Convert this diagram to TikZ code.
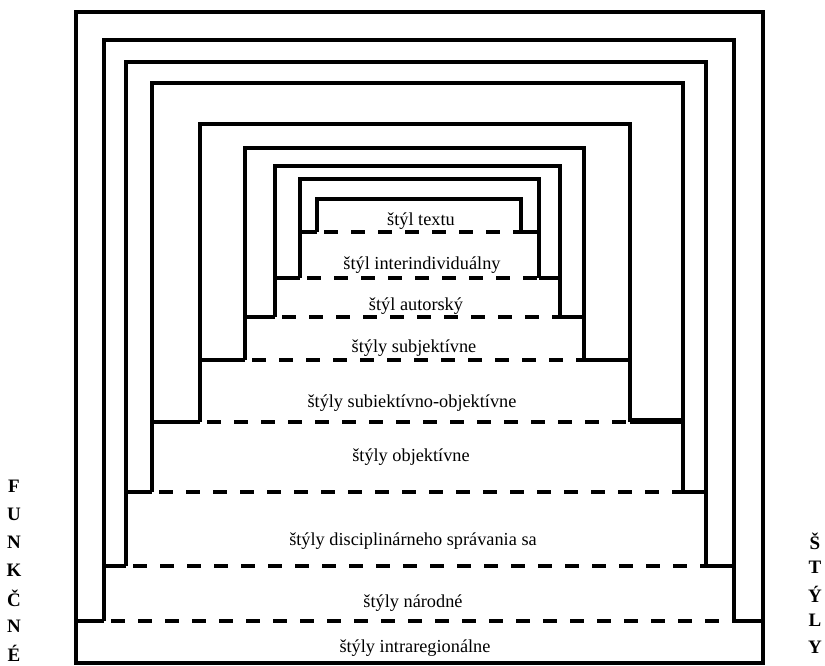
\documentclass[tikz,border=0pt]{standalone}
\usepackage{fontspec}
\setmainfont{Liberation Serif}
\begin{document}
\begin{tikzpicture}[x=1pt,y=-1pt,
  frameline/.style={line width=3.6pt, line join=miter},
  stub/.style={line width=3.6pt},
  thickstub/.style={line width=6.5pt},
  dashline/.style={line width=4.6pt, dash pattern=on 14pt off 13pt, dash phase=20pt},
  lbl/.style={font=\fontsize{18.3}{20}\selectfont, inner sep=0pt},
  side/.style={font=\fontsize{19}{20}\selectfont\bfseries, inner sep=0pt}]
\useasboundingbox (0,0) rectangle (825,666);
% outer frame
\draw[frameline] (76,12) rectangle (763,663);
% nested frames: left/right/top/bottom
\foreach \xl/\xr/\t/\b in {104/734/40/621, 126/706/62/566, 152/683/83/492,
  200/630/124/422, 245/584/148/360, 275/560/166/317, 300/539/179/278, 317/521/199/232}{
  \draw[frameline] (\xl,\b) -- (\xl,\t) -- (\xr,\t) -- (\xr,\b);
  \draw[dashline] (\xl,\b) -- (\xr,\b);
}
% solid stubs joining each frame foot to the enclosing frame
\foreach \xo/\xi/\xj/\xp/\b in {76/104/734/763/621, 104/126/706/734/566, 126/152/683/706/492,
  200/245/584/630/360, 245/275/560/584/317, 275/300/539/560/278, 300/317/521/539/232}{
  \draw[stub] (\xo,\b) -- (\xi,\b);
  \draw[stub] (\xj,\b) -- (\xp,\b);
}
\draw[stub] (152,422) -- (200,422);
\draw[thickstub] (630,421) -- (682,421);
% labels
\node[lbl] (t1) at (421,221) {štýl textu};
\node[lbl] (t2) at (422,265) {štýl interindividuálny};
\node[lbl] (t3) at (416,306) {štýl autorský};
\node[lbl] (t4) at (414,348) {štýly subjektívne};
\node[lbl] (t5) at (412,403) {štýly subiektívno-objektívne};
\node[lbl] (t6) at (411,457) {štýly objektívne};
\node[lbl] (t7) at (413,541) {štýly disciplinárneho správania sa};
\node[lbl] (t8) at (413,603) {štýly národné};
\node[lbl] (t9) at (415,648) {štýly intraregionálne};
% side letters
\foreach \c/\yy [count=\i] in {F/486, U/514, N/542, K/570, Č/598, N/626, É/653}{
  \node[side] (f\i) at (14,\yy) {\c};
}
\foreach \c/\yy [count=\i] in {Š/541, T/567, Ý/594, L/620, Y/647}{
  \node[side] (s\i) at (815,\yy) {\c};
}
\end{tikzpicture}
\end{document}
